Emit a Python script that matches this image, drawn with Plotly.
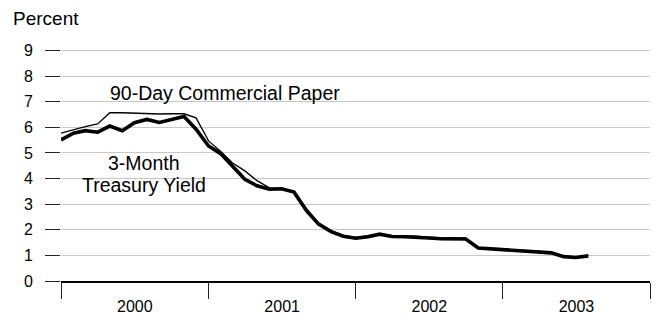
import plotly.graph_objects as go

months = [f"{y}-{m:02d}-01" for y in (2000, 2001, 2002, 2003) for m in range(1, 13)][:44]

treasury_3m = [
    5.51, 5.77, 5.87, 5.81, 6.05, 5.87, 6.18, 6.31, 6.19, 6.31, 6.42, 5.93,
    5.27, 4.96, 4.47, 3.97, 3.72, 3.58, 3.60, 3.47, 2.75, 2.22, 1.93, 1.75,
    1.67, 1.73, 1.83, 1.74, 1.73, 1.72, 1.68, 1.65, 1.65, 1.64, 1.29, 1.26,
    1.22, 1.20, 1.14, 1.12, 1.10, 0.95, 0.92, 0.98,
]
cp_90d = [
    5.77, 5.92, 6.03, 6.13, 6.57, 6.57, 6.55, 6.55, 6.52, 6.53, 6.53, 6.37,
    5.47, 5.05, 4.62, 4.30, 3.92, 3.64, 3.62, 3.50, 2.80, 2.25, 1.97, 1.78,
    1.70, 1.77, 1.85, 1.77, 1.76, 1.75, 1.71, 1.68, 1.69, 1.67, 1.31, 1.28,
    1.24, 1.22, 1.17, 1.15, 1.13, 0.97, 0.94, 1.00,
]
y_ticks = [0, 1, 2, 3, 4, 5, 6, 7, 8, 9]

FONT = "Liberation Sans, Arial, Helvetica, sans-serif"

fig = go.Figure()
fig.add_trace(go.Scatter(x=months, y=treasury_3m, mode="lines",
                         line=dict(color="black", width=3.6), name="3-Month Treasury Yield"))
fig.add_trace(go.Scatter(x=months, y=cp_90d, mode="lines",
                         line=dict(color="black", width=1.3), name="90-Day Commercial Paper"))

fig.update_layout(
    width=656, height=316,
    margin=dict(l=61, r=6, t=45, b=35),
    paper_bgcolor="white", plot_bgcolor="white",
    showlegend=False,
    font=dict(family=FONT, color="black"),
    xaxis=dict(
        type="date",
        range=["2000-01-01", "2004-01-01"],
        tick0="2000-01-01", dtick="M12", tickformat="%Y",
        ticklabelmode="period",
        ticks="outside", ticklen=16, tickwidth=1.2, tickcolor="#222",
        showline=True, linecolor="black", linewidth=1.5,
        showgrid=False, zeroline=False,
        tickfont=dict(size=16, color="black"),
        ticklabelstandoff=-6,
        automargin=False,
    ),
    yaxis=dict(
        range=[0, 9.215],
        tickvals=y_ticks,
        ticks="outside", ticklen=15, tickwidth=1.2, tickcolor="#222",
        showline=False, zeroline=False,
        showgrid=True, gridcolor="#c8c8c8", gridwidth=1,
        tickfont=dict(size=16, color="black"),
        ticklabelstandoff=9,
        automargin=False,
    ),
    annotations=[
        dict(text="Percent", xref="paper", yref="paper", x=-0.085, y=1.114,
             xanchor="left", yanchor="middle", showarrow=False,
             font=dict(size=19, color="black")),
        dict(text="90-Day Commercial Paper", x="2001-02-11", y=7.36,
             xanchor="center", yanchor="middle", showarrow=False,
             font=dict(size=19.5, color="black")),
        dict(text="3-Month", x="2000-07-26", y=4.62,
             xanchor="center", yanchor="middle", showarrow=False,
             font=dict(size=19.5, color="black")),
        dict(text="Treasury Yield", x="2000-07-26", y=3.74,
             xanchor="center", yanchor="middle", showarrow=False,
             font=dict(size=19.5, color="black")),
    ],
)

fig.write_html("out.html",
               config={"displayModeBar": False},
               post_script="document.body.style.margin='0';document.body.style.padding='0';")
